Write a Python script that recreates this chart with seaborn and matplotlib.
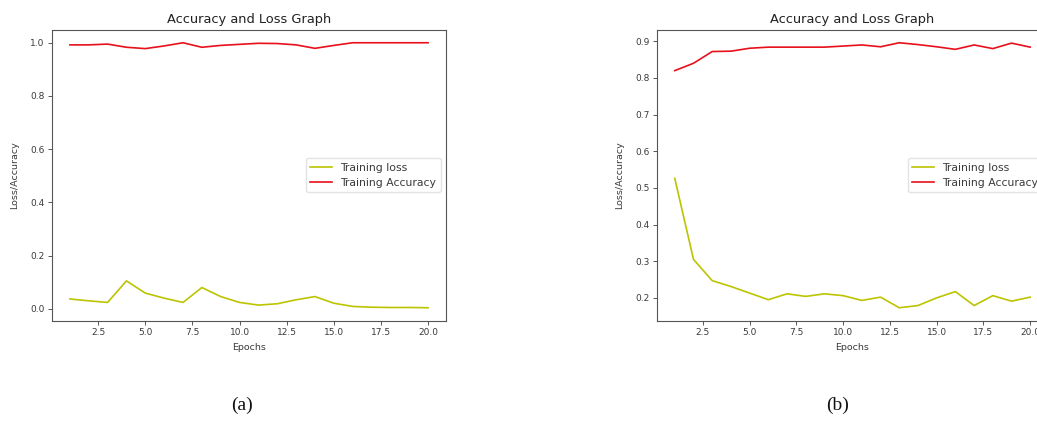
import matplotlib
matplotlib.use("Agg")
import matplotlib.pyplot as plt
import seaborn as sns
import pandas as pd

# Per-epoch training history for two runs
epochs = list(range(1, 21))

loss_a = [0.037, 0.030, 0.024, 0.105, 0.059, 0.040, 0.024, 0.080, 0.046, 0.024,
          0.014, 0.019, 0.034, 0.046, 0.021, 0.009, 0.006, 0.005, 0.005, 0.004]
acc_a = [0.992, 0.992, 0.995, 0.983, 0.978, 0.988, 1.000, 0.983, 0.990, 0.994,
         0.998, 0.997, 0.992, 0.979, 0.990, 1.000, 1.000, 1.000, 1.000, 1.000]

loss_b = [0.526, 0.305, 0.247, 0.231, 0.213, 0.195, 0.211, 0.204, 0.211, 0.206,
          0.193, 0.202, 0.173, 0.179, 0.200, 0.217, 0.179, 0.206, 0.191, 0.202]
acc_b = [0.820, 0.840, 0.872, 0.873, 0.881, 0.884, 0.884, 0.884, 0.884, 0.887,
         0.890, 0.885, 0.896, 0.891, 0.885, 0.878, 0.890, 0.880, 0.895, 0.884]

title = "Accuracy and Loss Graph"
captions = ["(a)", "(b)"]

plt.rcParams["font.family"] = ["DejaVu Sans"]

W, H = 1037, 428
fig = plt.figure(figsize=(W / 100, H / 100), dpi=100)

# axes rectangles in pixels: left, top, right, bottom
boxes = [(52, 29.5, 446, 321), (657, 29.5, 1048, 321)]
runs = [(loss_a, acc_a), (loss_b, acc_b)]
caption_x = [242, 838]

text_col = "#3a3a3a"
for (x0, y0, x1, y1), (loss, acc), cap, cx in zip(boxes, runs, captions, caption_x):
    ax = fig.add_axes([x0 / W, 1 - y1 / H, (x1 - x0) / W, (y1 - y0) / H])
    df = pd.DataFrame({"epoch": epochs, "loss": loss, "acc": acc})
    sns.lineplot(data=df, x="epoch", y="loss", ax=ax, color="#bcc400",
                 linewidth=1.2, label="Training loss")
    sns.lineplot(data=df, x="epoch", y="acc", ax=ax, color="#e8101a",
                 linewidth=1.2, label="Training Accuracy")
    ax.set_title(title, fontsize=9.4, color="#222222", pad=5)
    ax.set_xlabel("Epochs", fontsize=6.8, color=text_col, labelpad=4)
    ax.set_ylabel("Loss/Accuracy", fontsize=6.8, color=text_col, labelpad=8)
    ax.tick_params(labelsize=6.5, labelcolor=text_col, color="#555555",
                   length=2.8, width=0.7, pad=2.5)
    for sp in ax.spines.values():
        sp.set_color("#555555")
        sp.set_linewidth(0.8)
    ax.legend(loc="center right", fontsize=7.8, frameon=True,
              edgecolor="#dddddd", handlelength=2.0, labelcolor=text_col)
    fig.text(cx / W, 1 - 405 / H, cap, family="Liberation Serif",
             fontsize=14, ha="center", va="center", color="#111111")

fig.savefig("out.png", dpi=100)
